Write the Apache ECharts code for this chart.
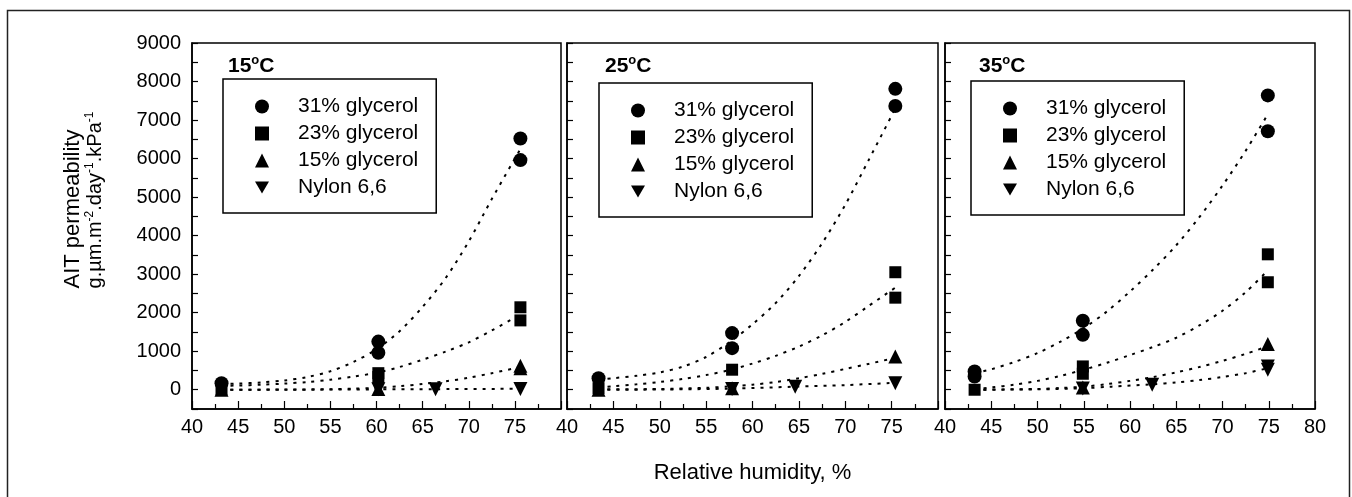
<!DOCTYPE html>
<html>
<head>
<meta charset="utf-8">
<script src="https://cdn.jsdelivr.net/npm/echarts@6/dist/echarts.min.js"></script>
<style>
html,body{margin:0;padding:0;background:#fff;}
#chart{width:1352px;height:497px;}
</style>
</head>
<body>
<div id="chart"></div>
<script>
"use strict";

// measured points, [relative humidity, permeability]
const p15_g31 = [[43.2,170],[60.2,1250],[60.2,960],[75.6,6520],[75.6,5960]];
const p15_g23 = [[43.2,20],[60.2,430],[60.2,330],[75.6,2140],[75.6,1800]];
const p15_g15 = [[43.2,0],[60.2,20],[75.6,620],[75.6,560]];
const p15_nylon = [[60.2,10],[66.4,10],[75.6,20]];

const p25_g31 = [[43.4,300],[57.8,1470],[57.8,1080],[75.4,7810],[75.4,7365]];
const p25_g23 = [[43.4,40],[57.8,520],[75.4,3050],[75.4,2390]];
const p25_g15 = [[43.4,0],[57.8,40],[75.4,860]];
const p25_nylon = [[57.8,20],[64.6,80],[75.4,170]];

const p35_g31 = [[43.2,475],[43.2,345],[54.9,1790],[54.9,1425],[74.9,7640],[74.9,6710]];
const p35_g23 = [[43.2,0],[54.9,605],[54.9,415],[74.9,3515],[74.9,2790]];
const p35_g15 = [[54.9,60],[74.9,1190]];
const p35_nylon = [[54.9,30],[62.4,130],[74.9,600],[74.9,520]];

// dotted fit curves
const fit15_g31 = [[43.2,150],[45,160],[47.5,190],[50,240],[52.5,330],[55,480],[57.5,720],[60,1050],[62.5,1520],[65,2150],[67.5,2900],[70,3850],[72.5,4950],[75.6,6250]];
const fit15_g23 = [[43.2,100],[45,110],[47.5,130],[50,160],[52.5,200],[55,260],[57.5,340],[60,440],[62.5,590],[65,780],[67.5,990],[70,1230],[72.5,1540],[75.6,1950]];
const fit15_g15 = [[43.2,0],[50,5],[55,15],[57.5,30],[60,50],[62.5,90],[65,150],[67.5,220],[70,310],[72.5,430],[75.6,590]];
const fit15_nylon = [[43.2,0],[50,0],[60,10],[66.4,15],[75.6,25]];

const fit25_g31 = [[43.4,260],[45,300],[47.5,360],[50,450],[52.5,600],[55,850],[57.5,1230],[60,1700],[62.5,2250],[65,2950],[67.5,3800],[70,4800],[72.5,5950],[75.4,7300]];
const fit25_g23 = [[43.4,60],[45,90],[47.5,140],[50,200],[52.5,280],[55,380],[57.5,510],[60,680],[62.5,880],[65,1120],[67.5,1410],[70,1760],[72.5,2170],[75.4,2650]];
const fit25_g15 = [[43.4,10],[50,20],[55,50],[57.5,85],[60,130],[62.5,200],[65,300],[67.5,410],[70,540],[72.5,670],[75.4,830]];
const fit25_nylon = [[43.4,0],[50,5],[57.8,30],[64.6,80],[70,120],[75.4,180]];

const fit35_g31 = [[43.2,430],[45,530],[47.5,720],[50,950],[52.5,1250],[55,1600],[57.5,2030],[60,2550],[62.5,3120],[65,3750],[67.5,4480],[70,5300],[72.5,6200],[74.9,7150]];
const fit35_g23 = [[43.2,20],[45,60],[47.5,130],[50,230],[52.5,360],[55,520],[57.5,700],[60,900],[62.5,1110],[65,1350],[67.5,1670],[70,2050],[72.5,2530],[74.9,3100]];
const fit35_g15 = [[43.2,0],[50,20],[52.5,45],[55,80],[57.5,145],[60,230],[62.5,330],[65,450],[67.5,590],[70,750],[72.5,930],[74.9,1130]];
const fit35_nylon = [[43.2,0],[50,10],[55,40],[58,80],[62.4,140],[65,190],[67.5,250],[70,330],[72.5,430],[74.9,560]];

const names = ["31% glycerol","23% glycerol","15% glycerol","Nylon 6,6"];
const temps = ["15","25","35"];
const xTicks = [40,80,5];
const yTicks = [-500,9000,500];

const pts = [
	[p15_g31,p15_g23,p15_g15,p15_nylon],
	[p25_g31,p25_g23,p25_g15,p25_nylon],
	[p35_g31,p35_g23,p35_g15,p35_nylon]
];
const fits = [
	[fit15_g31,fit15_g23,fit15_g15,fit15_nylon],
	[fit25_g31,fit25_g23,fit25_g15,fit25_nylon],
	[fit35_g31,fit35_g23,fit35_g15,fit35_nylon]
];

const FONT = "'Liberation Sans', Arial, sans-serif";
const symbols = ["circle","rect","triangle","triangle"];
const rotates = [0,0,0,180];
const sizes = [14,12,14,14];
const DOWN = "path://M0,0L10,0L5,8.66Z";

const gridPos = [[192,369],[567,371],[945,370]];
const legendPos = [[223,79],[599,83],[971,81]];
const titlePos = [[228,54],[605,54],[979,54]];

const myChart = echarts.init(document.getElementById("chart"));

let grid = [], xAxis = [], yAxis = [], series = [], legend = [], title = [];

gridPos.forEach((g,i)=>{
	grid.push({left:g[0],width:g[1],top:43,height:366,show:true,borderColor:"#000",borderWidth:1.5});
	xAxis.push({
		type:"value",gridIndex:i,min:xTicks[0],max:xTicks[1],interval:xTicks[2],
		axisLine:{onZero:false,lineStyle:{color:"#000",width:1.5}},
		axisTick:{inside:true,length:8,lineStyle:{color:"#000",width:1.2}},
		minorTick:{show:true,splitNumber:2,length:5,lineStyle:{color:"#000",width:1.2}},
		splitLine:{show:false},
		axisLabel:{
			fontSize:20,color:"#000",fontFamily:FONT,margin:8,
			formatter:(v)=>(v===80 && i<2) ? "" : String(v)
		},
		name:i===1 ? "Relative humidity, %" : "",
		nameLocation:"middle",nameGap:53,
		nameTextStyle:{fontSize:22,color:"#000",fontFamily:FONT}
	});
	yAxis.push({
		type:"value",gridIndex:i,min:yTicks[0],max:yTicks[1],interval:yTicks[2],
		axisLine:{show:true,onZero:false,lineStyle:{color:"#000",width:1.5}},
		axisTick:{inside:true,length:6,lineStyle:{color:"#000",width:1.2}},
		splitLine:{show:false},
		axisLabel:{
			show:i===0,fontSize:20,color:"#000",fontFamily:FONT,margin:11,
			formatter:(v)=>(v>=0 && v%1000===0) ? String(v) : ""
		}
	});
	legend.push({
		left:legendPos[i][0],top:legendPos[i][1],orient:"vertical",
		data:names.map((n,k)=>k===3 ? {name:n,icon:DOWN} : {name:n}),
		selectedMode:false,
		borderColor:"#000",borderWidth:1.5,
		padding:[17,18,15,32],
		itemWidth:14,itemHeight:14,itemGap:6,
		textStyle:{fontSize:21,lineHeight:21,color:"#000",fontFamily:FONT,padding:[0,0,0,24]}
	});
	title.push({
		left:titlePos[i][0],top:titlePos[i][1],padding:0,
		text:"{a|"+temps[i]+"}{b|o}{a|C}",
		textStyle:{
			fontFamily:FONT,
			rich:{
				a:{fontSize:21,fontWeight:"bold",color:"#000",fontFamily:FONT,lineHeight:24},
				b:{fontSize:13,fontWeight:"bold",color:"#000",fontFamily:FONT,verticalAlign:"top",lineHeight:24}
			}
		}
	});
	names.forEach((n,k)=>{
		series.push({
			type:"line",name:"fit"+i+k,xAxisIndex:i,yAxisIndex:i,
			data:fits[i][k],smooth:0.3,showSymbol:false,symbol:"none",silent:true,
			lineStyle:{color:"#000",width:2,type:[3,6]},z:2
		});
		series.push({
			type:"scatter",name:n,xAxisIndex:i,yAxisIndex:i,
			data:pts[i][k],symbol:symbols[k],symbolRotate:rotates[k],symbolSize:sizes[k],
			itemStyle:{color:"#000",opacity:1},z:3
		});
	});
});

const option = {
	animation:false,
	backgroundColor:"#fff",
	textStyle:{fontFamily:FONT},
	title,
	legend,
	grid,
	xAxis,
	yAxis,
	series,
	graphic:[
		{type:"rect",silent:true,shape:{x:7.5,y:10.5,width:1342,height:500},
			style:{fill:null,stroke:"#222",lineWidth:1.5}},
		{type:"text",silent:true,x:73,y:209,rotation:Math.PI/2,
			style:{text:"AIT permeability",fontSize:22,fontFamily:FONT,fill:"#000",align:"center",verticalAlign:"middle"}},
		{type:"text",silent:true,x:95,y:200,rotation:Math.PI/2,
			style:{
				text:"{n|g.\u00b5m.m}{s|-2}{n|.day}{s|-1}{n|.kPa}{s|-1}",
				align:"center",verticalAlign:"middle",fill:"#000",
				rich:{
					n:{fontSize:20,fontFamily:FONT,fill:"#000",lineHeight:22},
					s:{fontSize:12,fontFamily:FONT,fill:"#000",verticalAlign:"top",lineHeight:22}
				}
			}}
	]
};

myChart.setOption(option);
</script>
</body>
</html>
